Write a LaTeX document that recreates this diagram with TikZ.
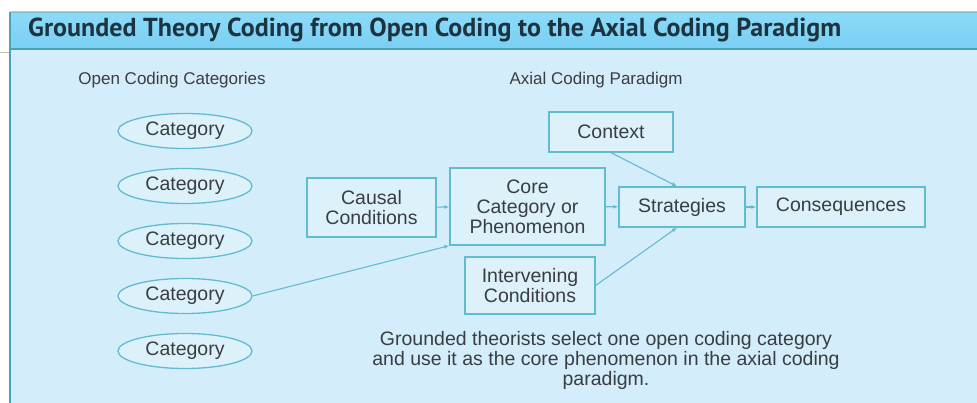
\documentclass[tikz,border=0pt]{standalone}
\usepackage{fontspec}
\setmainfont{Liberation Sans}
\newfontfamily\gttitlefont{PT Sans}
\usetikzlibrary{arrows.meta,shapes.geometric}
\definecolor{gt-ink}{HTML}{3A3D42}
\definecolor{gt-navy}{HTML}{1E3340}
\definecolor{gt-body}{HTML}{D4EDFA}
\definecolor{gt-head}{HTML}{7ACFF3}
\definecolor{gt-headtop}{HTML}{8CDAF8}
\definecolor{gt-rule}{HTML}{4AA3B8}
\definecolor{gt-teal}{HTML}{62BCD0}

\begin{document}
\begin{tikzpicture}[x=1pt,y=-1pt,
  lbl/.style={text=gt-ink,font=\fontsize{19.5}{20}\selectfont,align=center,inner sep=0pt},
  parabox/.style={lbl,draw=gt-teal,line width=1.3pt,fill=gt-body!80!white},
  catoval/.style={lbl,ellipse,draw=gt-teal,line width=1.3pt,fill=gt-body!80!white,
                  minimum width=134,minimum height=35},
  link/.style={gt-teal,line width=1.1pt,-{Latex[length=5pt,width=4pt]}}]

\useasboundingbox (0,0) rectangle (977,403);
\fill[white] (0,0) rectangle (977,403);

% ============ FRAME and TITLE BAR ============
\fill[gt-body] (10,12) rectangle (977,403);
\shade[top color=gt-headtop,bottom color=gt-head] (10,12) rectangle (977,49);
\draw[gt-rule!70,line width=1pt] (10,12.5) -- (977,12.5);
\draw[gt-rule,line width=1.5pt] (10,49) -- (977,49);
\draw[gt-rule,line width=1.5pt] (10,12) -- (10,403);
\draw[black!25,line width=0.8pt] (0,52) -- (9,52);
\node[anchor=west,text=gt-navy,font=\gttitlefont\bfseries\fontsize{26}{26}\selectfont,inner sep=0pt]
  (title) at (28,30) {Grounded Theory Coding from Open Coding to the Axial Coding Paradigm};

% ============ OPEN CODING (left) ============
\node[lbl,font=\fontsize{17}{17}\selectfont] (openhd) at (172,80) {Open Coding Categories};
\foreach \i/\yy in {1/131,2/186,3/241,4/296,5/351}
  \node[catoval] (cat\i) at (185,\yy) {Category};

% ============ AXIAL CODING PARADIGM (right) ============
\node[lbl,font=\fontsize{17}{17}\selectfont] (axialhd) at (596,80) {Axial Coding Paradigm};

\node[parabox,minimum width=124,minimum height=40] (context) at (611,132) {Context};
\node[parabox,minimum width=129,minimum height=59] (causal) at (371.5,207.5) {Causal\\Conditions};
\node[parabox,minimum width=155,minimum height=77] (core) at (527.5,206.5) {Core\\Category or\\Phenomenon};
\node[parabox,minimum width=126,minimum height=40] (strat) at (682,207) {Strategies};
\node[parabox,minimum width=168,minimum height=40] (conseq) at (841,207) {Consequences};
\node[parabox,minimum width=130,minimum height=57] (interv) at (530,285.5) {Intervening\\Conditions};

\draw[link] (causal) -- (core);
\draw[link] (core) -- (strat);
\draw[link] (strat) -- (conseq);
\draw[link] (context.south) -- ([xshift=-5pt]strat.north);
\draw[link] (interv.east) -- ([xshift=-5pt]strat.south);
\draw[link] (cat4.east) -- (core.south west);

\node[lbl] (note) at (606,360)
  {Grounded theorists select one open coding category\\
   and use it as the core phenomenon in the axial coding\\
   paradigm.};

\end{tikzpicture}
\end{document}
